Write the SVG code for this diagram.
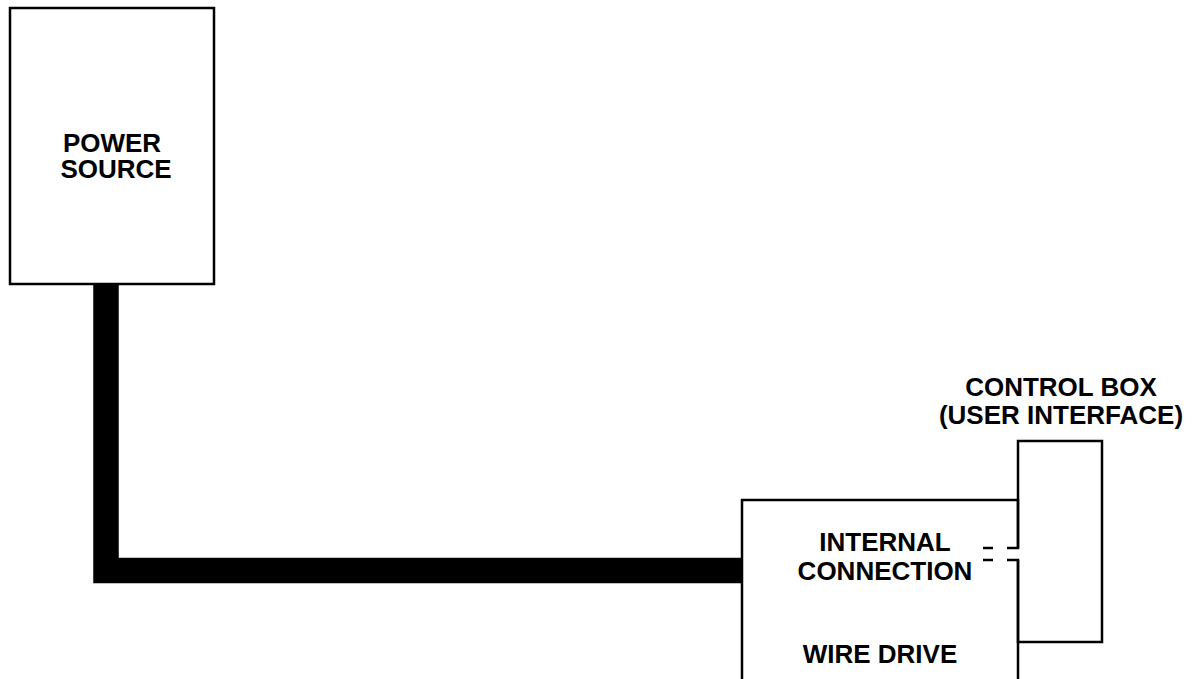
<svg xmlns="http://www.w3.org/2000/svg" width="1199" height="679" viewBox="0 0 1199 679">
<style>
.box{fill:#fff;stroke:#000;stroke-width:2.5}
.ln{fill:none;stroke:#000;stroke-width:2.5}
.t{font-family:"Liberation Sans",Arial,sans-serif;font-weight:bold;font-size:26px;fill:#000;text-anchor:middle}
</style>
<rect width="1199" height="679" fill="#fff"/>
<g id="connectors">
<path d="M106 284 V570.5 H742" fill="none" stroke="#000" stroke-width="25.5" stroke-linejoin="miter"/>
</g>
<g id="power-source">
<rect class="box" x="10" y="8" width="204" height="276"/>
<text class="t" x="112" y="152">POWER</text>
<text class="t" x="116" y="178">SOURCE</text>
</g>
<g id="control-box">
<path class="ln" d="M1018 548 V441 H1102 V642 H1018 V560"/>
<text class="t" x="1061" y="396">CONTROL BOX</text>
<text class="t" x="1061" y="424">(USER INTERFACE)</text>
</g>
<g id="wire-drive">
<path class="ln" d="M742 690 V500 H1018 V548 H1007 M993 548 H983 M983 560 H993 M1007 560 H1018 V690"/>
<text class="t" x="885" y="551">INTERNAL</text>
<text class="t" x="885" y="580">CONNECTION</text>
<text class="t" x="880" y="663">WIRE DRIVE</text>
</g>
</svg>
